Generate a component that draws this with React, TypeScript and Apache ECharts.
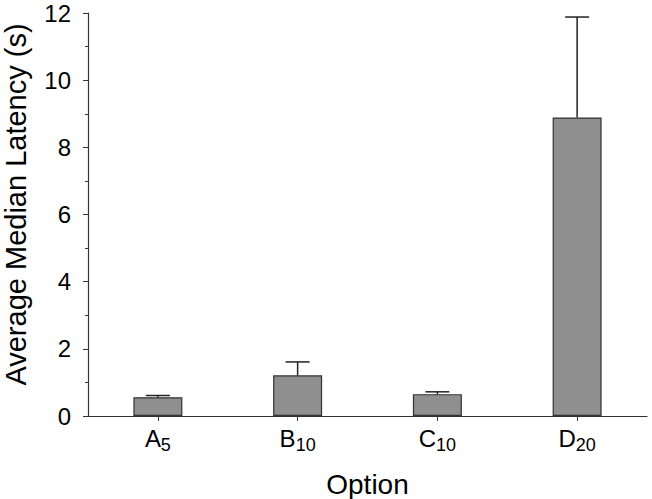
import React, { useEffect, useRef } from "react";
import * as echarts from "echarts";

const categories = ["A", "B", "C", "D"];
const subscripts = ["5", "10", "10", "20"];
const meanValues = [0.56, 1.21, 0.65, 8.89];
const upperErrors = [0.61, 1.61, 0.72, 11.88];
const yTicks = { min: 0, max: 12, interval: 2 };

const FONT = "Liberation Sans, Arial, Helvetica, sans-serif";

export default function App() {
  const ref = useRef<HTMLDivElement>(null);
  useEffect(() => {
    if (!ref.current) return;
    const chart = echarts.init(ref.current, undefined, { renderer: "svg" });
    const errData = categories.map((_, i) => [i, meanValues[i], upperErrors[i]]);
    chart.setOption({
      animation: false,
      backgroundColor: "#ffffff",
      grid: { left: 88, right: 5, top: 13, bottom: 83, containLabel: false, outerBoundsMode: "none" },
      xAxis: {
        type: "category",
        data: categories,
        boundaryGap: true,
        name: "Option",
        nameLocation: "middle",
        nameGap: 54,
        nameTextStyle: { fontSize: 28, color: "#000", fontFamily: FONT },
        axisLine: { show: true, lineStyle: { color: "#333", width: 1.2 } },
        axisTick: { show: true, alignWithLabel: true, length: 5, lineStyle: { color: "#333" } },
        axisLabel: {
          margin: 6,
          formatter: (v: string, i: number) => `{m|${v}}{s|${subscripts[i]}}`,
          rich: {
            m: { fontSize: 24, lineHeight: 32, color: "#000", fontFamily: FONT },
            s: { fontSize: 18, lineHeight: 20, verticalAlign: "bottom", color: "#000", fontFamily: FONT },
          },
        },
        splitLine: { show: false },
      },
      yAxis: {
        type: "value",
        min: yTicks.min,
        max: yTicks.max,
        interval: yTicks.interval,
        name: "Average Median Latency (s)",
        nameLocation: "middle",
        nameGap: 57,
        nameTextStyle: { fontSize: 29, lineHeight: 30, color: "#000", fontFamily: FONT, padding: [0, 0, 0, 20] },
        axisLine: { show: true, lineStyle: { color: "#333", width: 1.2 } },
        axisTick: { show: true, length: 5, lineStyle: { color: "#333" } },
        minorTick: { show: true, splitNumber: 2, length: 3, lineStyle: { color: "#333" } },
        axisLabel: {
          margin: 17,
          fontSize: 24,
          lineHeight: 22,
          padding: [4, 0, 0, 0],
          color: "#000",
          fontFamily: FONT,
        },
        splitLine: { show: false },
        minorSplitLine: { show: false },
      },
      series: [
        {
          type: "bar",
          data: meanValues,
          barWidth: 49,
          itemStyle: { color: "#8f8f8f", borderColor: "#333", borderWidth: 1.2 },
        },
        {
          type: "custom",
          data: errData,
          encode: { x: 0, y: [1, 2] },
          z: 3,
          renderItem: (params: any, api: any) => {
            const base = api.coord([api.value(0), api.value(1)]);
            const top = api.coord([api.value(0), api.value(2)]);
            const half = 12;
            const style = { stroke: "#222", lineWidth: 1.5 };
            return {
              type: "group",
              children: [
                { type: "line", shape: { x1: base[0], y1: base[1], x2: top[0], y2: top[1] }, style },
                { type: "line", shape: { x1: top[0] - half, y1: top[1], x2: top[0] + half, y2: top[1] }, style },
              ],
            };
          },
        },
      ],
    });
    return () => chart.dispose();
  }, []);
  return (
    <div
      ref={ref}
      style={{ position: "absolute", left: 0, top: 0, width: 652, height: 499 }}
    />
  );
}
